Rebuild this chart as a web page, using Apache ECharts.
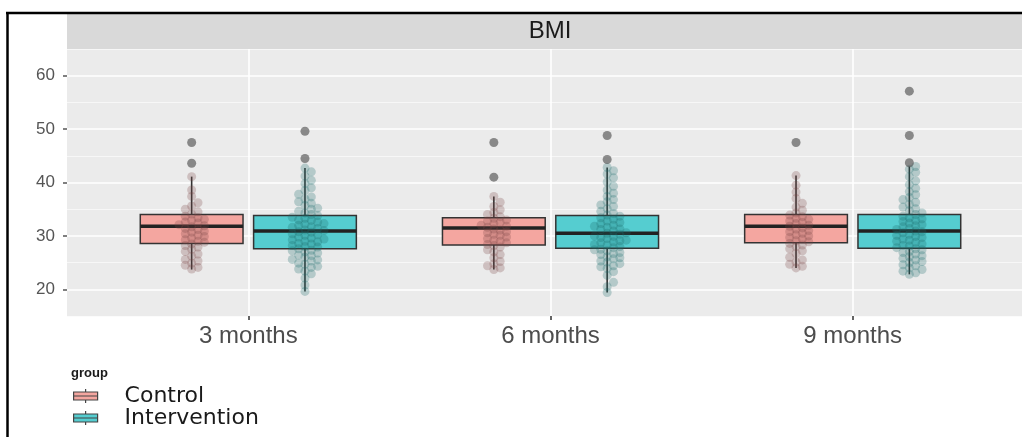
<!DOCTYPE html>
<html><head><meta charset="utf-8">
<script src="https://cdn.jsdelivr.net/npm/echarts@6/dist/echarts.min.js"></script>
<style>html,body{margin:0;padding:0;background:#fff}#c{width:1022px;height:437px}</style>
</head><body><div id="c"></div>
<script>
// ---------------- data ----------------
const categories = ['3 months', '6 months', '9 months'];
const groupNames = ['Control', 'Intervention'];
const yTicks = [20, 30, 40, 50, 60];
const stripLabel = 'BMI';
const legendTitle = 'group';
// [lower whisker, Q1, median, Q3, upper whisker]
const controlBox = [[23.7, 28.6, 31.8, 34.0, 41.1], [23.7, 28.3, 31.5, 33.4, 37.4], [24.0, 28.7, 31.8, 34.0, 41.3]];
const interventionBox = [[19.6, 27.6, 30.9, 33.8, 42.7], [19.4, 27.7, 30.5, 33.8, 42.8], [22.8, 27.7, 30.9, 34.0, 43.0]];
const controlOutliers = [[43.6, 47.5], [41.0, 47.5], [47.5]];
const interventionOutliers = [[44.5, 49.6], [44.3, 48.8], [43.7, 48.8, 57.1]];
const controlPoints3 = [23.8,24.1,24.5,24.9,25.3,25.6,26.2,26.6,27.1,27.5,27.9,28.2,28.5,28.8,29.0,29.3,29.6,29.9,30.1,30.4,30.7,30.9,31.2,31.4,31.7,31.9,32.1,32.4,32.6,32.9,33.1,33.4,33.7,34.1,34.5,35.0,35.6,36.2,37.4,38.6,41.1];
const controlPoints6 = [23.7,24.0,24.4,24.8,25.2,25.9,26.5,27.0,27.4,27.9,28.2,28.4,28.7,29.0,29.2,29.5,29.8,30.1,30.3,30.6,30.8,31.1,31.3,31.6,31.8,32.0,32.3,32.5,32.8,33.0,33.3,33.6,34.0,34.4,34.9,35.5,36.3,37.4];
const controlPoints9 = [24.0,24.3,24.7,25.1,25.5,26.0,26.7,27.2,27.6,28.0,28.3,28.6,28.9,29.1,29.4,29.7,30.0,30.2,30.5,30.8,31.0,31.3,31.5,31.8,32.0,32.3,32.5,32.8,33.1,33.3,33.6,33.9,34.3,34.8,35.4,36.1,37.0,38.2,39.5,41.3];
const interventionPoints3 = [19.6,20.8,22.1,22.9,23.4,23.8,24.1,24.3,24.7,24.9,25.3,25.5,25.6,26.0,26.3,26.4,26.8,27.0,27.2,27.3,27.6,27.9,28.0,28.2,28.5,28.6,28.9,29.0,29.3,29.4,29.6,29.8,30.1,30.2,30.4,30.7,30.8,31.0,31.1,31.4,31.6,31.7,32.0,32.2,32.3,32.6,32.9,33.0,33.3,33.5,33.8,34.0,34.3,34.6,35.0,35.2,35.7,36.1,36.4,36.9,37.3,37.8,38.5,39.0,39.8,40.4,41.2,42.0,42.7];
const interventionPoints6 = [19.4,20.5,21.3,22.6,23.3,23.9,24.2,24.4,24.8,25.1,25.3,25.7,25.9,26.1,26.5,26.7,26.9,27.2,27.4,27.5,27.8,28.0,28.3,28.4,28.7,28.9,29.1,29.2,29.5,29.7,29.9,30.0,30.3,30.5,30.6,30.9,31.2,31.3,31.6,31.8,32.0,32.3,32.5,32.8,33.1,33.4,33.7,33.9,34.2,34.6,35.1,35.5,35.8,36.4,36.8,37.4,38.0,38.6,39.3,40.1,40.9,41.6,42.2,42.8];
const interventionPoints9 = [22.8,23.1,23.4,23.7,24.0,24.4,24.6,25.0,25.2,25.5,25.8,26.1,26.3,26.6,26.9,27.1,27.4,27.6,27.8,28.1,28.2,28.5,28.8,29.0,29.2,29.4,29.7,29.9,30.1,30.3,30.6,30.8,30.9,31.2,31.4,31.7,31.9,32.1,32.4,32.7,32.9,33.2,33.4,33.7,34.0,34.3,34.7,35.1,35.4,35.9,36.3,36.8,37.2,37.7,38.3,38.9,39.6,40.3,41.1,41.9,42.5,43.0];

// ---------------- layout / style ----------------
const DODGE = 0.1875, BOX_W = 0.34;
const STEP_X = 0.021, MIN_DY = 0.95;
const COL_CTRL = '#F4A6A0', COL_INT = '#55CDD0';
const controlPoints = [controlPoints3, controlPoints6, controlPoints9];
const interventionPoints = [interventionPoints3, interventionPoints6, interventionPoints9];
const catPos = categories.map((c, i) => i + 1);

function swarm(values, center) {
  const sorted = values.slice().sort((a, b) => a - b);
  const placed = [];
  for (const v of sorted) {
    let k = 0;
    for (let j = 0; j < 40; j++) {
      const cand = j === 0 ? 0 : (j % 2 ? Math.ceil(j / 2) : -Math.ceil(j / 2));
      if (!placed.some(p => p.k === cand && Math.abs(p.v - v) < MIN_DY)) { k = cand; break; }
    }
    placed.push({ k, v });
  }
  return placed.map(p => [center + p.k * STEP_X, p.v]);
}

function boxRender(params, api) {
  const x = api.value(0);
  const lo = api.coord([x, api.value(1)]);
  const q1 = api.coord([x, api.value(2)]);
  const md = api.coord([x, api.value(3)]);
  const q3 = api.coord([x, api.value(4)]);
  const hi = api.coord([x, api.value(5)]);
  const half = api.size([BOX_W, 0])[0] / 2;
  const fill = api.visual('color');
  return { type: 'group', children: [
    { type: 'line', shape: { x1: lo[0], y1: lo[1], x2: q1[0], y2: q1[1] }, style: { stroke: '#333', lineWidth: 1.6 } },
    { type: 'line', shape: { x1: q3[0], y1: q3[1], x2: hi[0], y2: hi[1] }, style: { stroke: '#333', lineWidth: 1.6 } },
    { type: 'rect', shape: { x: q1[0] - half, y: q3[1], width: half * 2, height: q1[1] - q3[1] }, style: { fill: fill, stroke: '#333', lineWidth: 1.5 } },
    { type: 'line', shape: { x1: md[0] - half, y1: md[1], x2: md[0] + half, y2: md[1] }, style: { stroke: '#222', lineWidth: 3.5 } }
  ]};
}

const ctrlBoxData = catPos.map((p, i) => [p - DODGE].concat(controlBox[i]));
const intBoxData = catPos.map((p, i) => [p + DODGE].concat(interventionBox[i]));
const ctrlPts = [].concat(...catPos.map((p, i) => swarm(controlPoints[i], p - DODGE)));
const intPts = [].concat(...catPos.map((p, i) => swarm(interventionPoints[i], p + DODGE)));
const outPts = [].concat(
  ...catPos.map((p, i) => controlOutliers[i].map(v => [p - DODGE, v])),
  ...catPos.map((p, i) => interventionOutliers[i].map(v => [p + DODGE, v]))
);

const BOX_ICON = 'path://M0,3H24V11H0Z M0,7H24 M12,0V3 M12,11V14';

const chart = echarts.init(document.getElementById('c'), null, { renderer: 'canvas' });
chart.setOption({
  animation: false,
  backgroundColor: '#fff',
  grid: { left: 67, top: 49, width: 967, height: 267, show: true, backgroundColor: '#EBEBEB', borderWidth: 0, containLabel: false, outerBoundsMode: 'none' },
  title: { text: legendTitle, left: 71, top: 367, padding: 0, textStyle: { fontSize: 13, fontWeight: 'bold', fontFamily: 'Liberation Sans', color: '#1a1a1a' } },
  legend: {
    orient: 'vertical', left: 73, top: 385, padding: 0, itemWidth: 24, itemHeight: 14, itemGap: 0, selectedMode: false,
    data: [
      { name: groupNames[0], icon: BOX_ICON, itemStyle: { color: COL_CTRL, borderColor: '#444', borderWidth: 1.2 } },
      { name: groupNames[1], icon: BOX_ICON, itemStyle: { color: COL_INT, borderColor: '#444', borderWidth: 1.2 } }
    ],
    textStyle: { fontFamily: 'DejaVu Sans', fontSize: 22, lineHeight: 22, color: '#1a1a1a', padding: [0, 0, 0, 22] }
  },
  xAxis: {
    type: 'value', min: 0.4, max: 3.6,
    splitLine: { show: false }, axisLine: { show: false },
    axisTick: { customValues: catPos, length: 4, lineStyle: { color: '#333', width: 1.5 } },
    axisLabel: { customValues: catPos, formatter: v => categories[Math.round(v) - 1] || '', fontSize: 24, fontFamily: 'Liberation Sans', color: '#4d4d4d', margin: 8 }
  },
  yAxis: [
    { type: 'value', min: 15, max: 65, interval: 10, position: 'left',
      axisLabel: { show: false }, axisTick: { show: false }, axisLine: { show: false },
      splitLine: { lineStyle: { color: '#fafafa', width: 0.8 } } },
    { type: 'value', min: 15, max: 65, position: 'left', axisLine: { show: false },
      axisTick: { show: true, customValues: yTicks, length: 4, lineStyle: { color: '#555', width: 1.5 } },
      axisLabel: { customValues: yTicks, formatter: v => yTicks.includes(v) ? String(v) : '', fontSize: 17, fontFamily: 'Liberation Sans', color: '#555', margin: 12 },
      splitLine: { lineStyle: { color: '#fff', width: 1.6 } } }
  ],
  graphic: [
    { type: 'rect', shape: { x: 67, y: 14, width: 967, height: 35 }, style: { fill: '#D9D9D9' }, z: 0 },
    { type: 'text', x: 550, y: 31, style: { text: stripLabel, fontSize: 24, fontFamily: 'Liberation Sans', fill: '#1a1a1a', align: 'center', verticalAlign: 'middle' } },
    { type: 'line', shape: { x1: 6, y1: 13, x2: 1022, y2: 13 }, style: { stroke: '#000', lineWidth: 2.5 } },
    { type: 'line', shape: { x1: 7.5, y1: 12, x2: 7.5, y2: 437 }, style: { stroke: '#000', lineWidth: 2.5 } }
  ],
  series: [
    { type: 'scatter', name: 'grid', data: [], yAxisIndex: 1, z: 1, silent: true,
      markLine: { silent: true, symbol: 'none', label: { show: false }, lineStyle: { color: '#fff', width: 1.6, type: 'solid' },
        data: catPos.map(p => ({ xAxis: p })) } },
    { type: 'custom', name: groupNames[0], yAxisIndex: 1, z: 2, renderItem: boxRender, itemStyle: { color: COL_CTRL },
      encode: { x: 0, y: [1, 2, 3, 4, 5] }, data: ctrlBoxData },
    { type: 'custom', name: groupNames[1], yAxisIndex: 1, z: 2, renderItem: boxRender, itemStyle: { color: COL_INT },
      encode: { x: 0, y: [1, 2, 3, 4, 5] }, data: intBoxData },
    { type: 'scatter', name: 'Control points', yAxisIndex: 1, z: 3, symbolSize: 9, data: ctrlPts,
      itemStyle: { color: 'rgba(120,70,70,0.33)' } },
    { type: 'scatter', name: 'Intervention points', yAxisIndex: 1, z: 3, symbolSize: 9, data: intPts,
      itemStyle: { color: 'rgba(25,105,105,0.33)' } },
    { type: 'scatter', name: 'Outliers', yAxisIndex: 1, z: 4, symbolSize: 9, data: outPts,
      itemStyle: { color: 'rgba(70,70,70,0.75)' } }
  ]
});
</script>
</body></html>
